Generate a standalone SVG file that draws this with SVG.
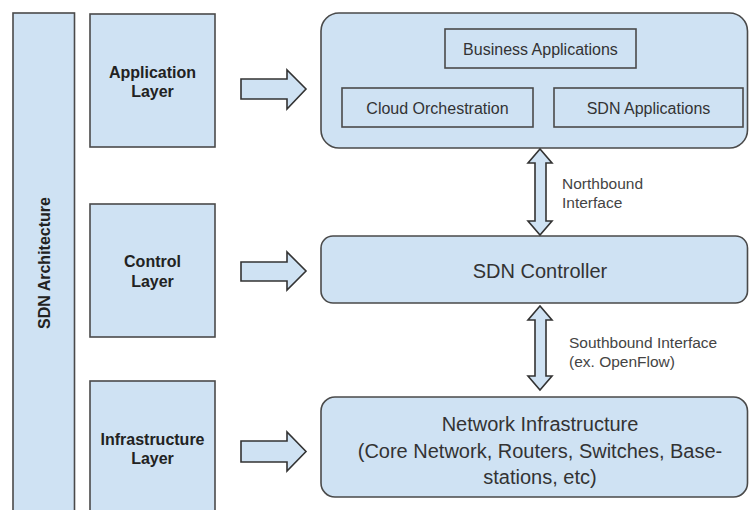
<svg xmlns="http://www.w3.org/2000/svg" width="749" height="510" viewBox="0 0 749 510">
<style>
.box{fill:#cfe2f3;stroke:#4a4a4a;stroke-width:1.6}
.arr{fill:#cfe2f3;stroke:#333;stroke-width:1.6;stroke-linejoin:miter}
.b{font-family:"Liberation Sans",Arial,sans-serif;font-weight:bold;font-size:16px;fill:#222;text-anchor:middle}
.t{font-family:"Liberation Sans",Arial,sans-serif;font-size:16px;fill:#333;text-anchor:middle}
.l{font-family:"Liberation Sans",Arial,sans-serif;font-size:15.5px;fill:#444}
.big{font-family:"Liberation Sans",Arial,sans-serif;font-size:20px;fill:#333;text-anchor:middle}
</style>
<rect width="749" height="510" fill="#fff"/>
<g id="sdn-architecture">
<rect class="box" x="13" y="13" width="61.5" height="510"/>
<text class="b" transform="translate(50,263) rotate(-90)">SDN Architecture</text>
</g>
<g id="application-layer">
<rect class="box" x="90" y="14" width="125" height="133"/>
<text class="b" x="152.5" y="78">Application</text>
<text class="b" x="152.5" y="97">Layer</text>
</g>
<g id="control-layer">
<rect class="box" x="90" y="204" width="125" height="133"/>
<text class="b" x="152.5" y="267">Control</text>
<text class="b" x="152.5" y="287">Layer</text>
</g>
<g id="infrastructure-layer">
<rect class="box" x="90" y="381" width="125" height="140"/>
<text class="b" x="152.5" y="445">Infrastructure</text>
<text class="b" x="152.5" y="464">Layer</text>
</g>
<g id="application-plane">
<rect class="box" x="321" y="13" width="426.5" height="135" rx="18"/>
<g id="business-applications">
<rect class="box" x="445" y="29" width="191" height="39"/>
<text class="t" x="540.5" y="55">Business Applications</text>
</g>
<g id="cloud-orchestration">
<rect class="box" x="342" y="88" width="191" height="39"/>
<text class="t" x="437.5" y="114">Cloud Orchestration</text>
</g>
<g id="sdn-applications">
<rect class="box" x="554" y="88" width="189" height="39"/>
<text class="t" x="648.5" y="114">SDN Applications</text>
</g>
</g>
<g id="sdn-controller">
<rect class="box" x="321" y="236" width="426.5" height="67" rx="12"/>
<text class="big" x="540" y="278">SDN Controller</text>
</g>
<g id="network-infrastructure">
<rect class="box" x="321" y="397" width="426.5" height="100" rx="14"/>
<text class="big" x="540" y="431">Network Infrastructure</text>
<text class="big" x="540" y="458">(Core Network, Routers, Switches, Base-</text>
<text class="big" x="540" y="484">stations, etc)</text>
</g>
<g id="connectors">
<path class="arr" d="M241,79 H287 V70 L306,89 L287,109 V99 H241 Z"/>
<path class="arr" d="M241,262 H287 V252 L306,271 L287,290 V281 H241 Z"/>
<path class="arr" d="M241,441 H287 V432 L306,451.5 L287,471 V462 H241 Z"/>
<path class="arr" d="M535,163 H528 L540,149 L552,163 H546 V221 H552 L540,235 L528,221 H535 Z"/>
<path class="arr" d="M535,320 H528 L540,306 L552,320 H546 V376 H552 L540,390 L528,376 H535 Z"/>
<text class="l" x="562" y="189">Northbound</text>
<text class="l" x="562" y="208">Interface</text>
<text class="l" x="569" y="348">Southbound Interface</text>
<text class="l" x="569" y="367">(ex. OpenFlow)</text>
</g>
</svg>
